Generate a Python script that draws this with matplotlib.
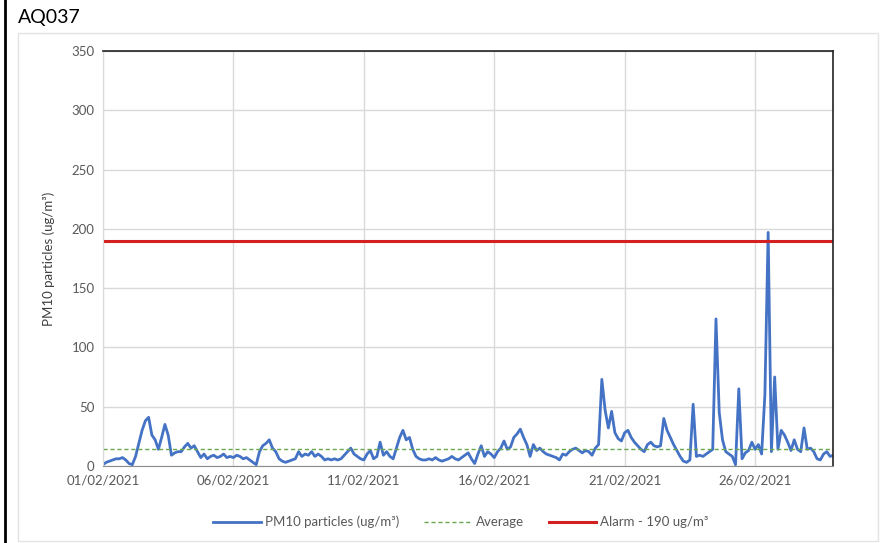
import numpy as np
import pandas as pd
import matplotlib
matplotlib.use("Agg")
import matplotlib.pyplot as plt
import matplotlib.dates as mdates
from matplotlib.patches import Rectangle
from matplotlib.lines import Line2D

# PM10 readings, 3-hourly, one row per day (01/02 .. 28/02) + final value at 01/03 00:00
pm10_daily = [
    [1, 3, 4, 5, 6, 6, 7, 5],
    [2, 1, 8, 19, 30, 38, 41, 26],
    [22, 14, 24, 35, 26, 9, 11, 12],
    [12, 16, 19, 15, 17, 12, 7, 10],
    [6, 8, 9, 7, 8, 10, 7, 8],
    [7, 9, 8, 6, 7, 5, 3, 1],
    [12, 17, 19, 22, 15, 12, 6, 4],
    [3, 4, 5, 6, 12, 8, 10, 9],
    [12, 8, 10, 8, 5, 6, 5, 6],
    [5, 6, 9, 12, 15, 10, 8, 6],
    [5, 10, 13, 6, 8, 20, 9, 12],
    [8, 6, 15, 24, 30, 22, 24, 14],
    [8, 6, 5, 5, 6, 5, 7, 5],
    [4, 5, 6, 8, 6, 5, 7, 9],
    [11, 6, 2, 10, 17, 8, 12, 10],
    [7, 12, 15, 21, 14, 16, 24, 27],
    [31, 24, 18, 8, 18, 13, 15, 12],
    [10, 9, 8, 7, 5, 10, 9, 12],
    [14, 15, 13, 11, 13, 12, 9, 15],
    [18, 73, 47, 32, 46, 28, 23, 21],
    [28, 30, 24, 20, 17, 14, 12, 18],
    [20, 17, 16, 17, 40, 30, 24, 18],
    [13, 8, 4, 3, 5, 52, 8, 9],
    [8, 10, 12, 14, 124, 45, 22, 12],
    [10, 8, 1, 65, 6, 11, 13, 20],
    [14, 18, 10, 60, 197, 12, 75, 14],
    [30, 26, 20, 13, 22, 14, 12, 32],
    [14, 15, 12, 6, 5, 10, 12, 8],
]
pm10_last = 9
average = 14
alarm = 190

x_ticks = ["2021-02-01", "2021-02-06", "2021-02-11", "2021-02-16", "2021-02-21", "2021-02-26"]
y_ticks = [0, 50, 100, 150, 200, 250, 300, 350]

values = [v for day in pm10_daily for v in day] + [pm10_last]
times = pd.date_range("2021-02-01", periods=len(values), freq="3h")

plt.rcParams["font.family"] = ["Lato", "DejaVu Sans"]
grey = "#595959"

fig = plt.figure(figsize=(8.8, 5.43), dpi=100)
ax = fig.add_axes([0.117, 0.142, 0.83, 0.764])

ax.plot(times, values, color="#4472C4", lw=2.0, label="PM10 particles (ug/m\u00b3)")
ax.axhline(average, color="#6aa84f", lw=1.0, ls=(0, (3, 2)), label="Average")
ax.axhline(alarm, color="#D42020", lw=2.2, label="Alarm - 190 ug/m\u00b3")

ax.set_xlim(times[0], times[-1])
ax.set_ylim(0, 350)
ax.set_yticks(y_ticks)
ax.set_xticks(pd.to_datetime(x_ticks))
ax.xaxis.set_major_formatter(mdates.DateFormatter("%d/%m/%Y"))
ax.tick_params(length=0, labelsize=9.5, colors=grey, pad=6)
ax.grid(True, color="#d9d9d9", lw=1.0)
ax.set_axisbelow(True)

for side in ("top", "right"):
    ax.spines[side].set_color("#222222")
    ax.spines[side].set_linewidth(1.2)
ax.spines["left"].set_color("#d9d9d9")
ax.spines["bottom"].set_color("#8c8c8c")

ax.set_ylabel("PM10 particles (ug/m\u00b3)", fontsize=9.5, color="#404040", labelpad=12)

# legend under the chart
ax.legend(loc="center", bbox_to_anchor=(0.49, -0.135), ncol=3, frameon=False,
          fontsize=9.5, labelcolor=grey, handlelength=3.6, handletextpad=0.3,
          columnspacing=1.9)

# outer frame and title
fig.add_artist(Rectangle((18 / 880, 2 / 543), 860 / 880, 508 / 543, transform=fig.transFigure,
                         fill=False, edgecolor="#e3e3e3", lw=1.0))
fig.add_artist(Line2D([5 / 880, 5 / 880], [0, 1], transform=fig.transFigure, color="black", lw=2))
fig.text(18 / 880, 1 - 18 / 543, "AQ037", fontsize=14, va="center", ha="left", color="black")

fig.savefig("out.png", dpi=100)
